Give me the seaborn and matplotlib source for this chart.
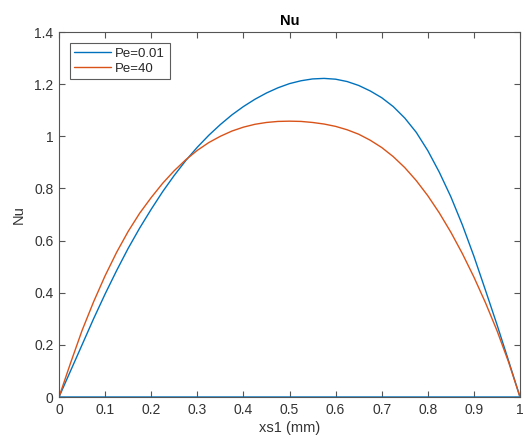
import matplotlib
matplotlib.use("Agg")
import matplotlib.pyplot as plt
import seaborn as sns
import pandas as pd

# Data
x_blue = [0, 0.025, 0.05, 0.075, 0.1, 0.125, 0.15, 0.175, 0.2, 0.225, 0.25, 0.275, 0.3,
          0.325, 0.35, 0.375, 0.4, 0.425, 0.45, 0.475, 0.5, 0.525, 0.55, 0.575, 0.6,
          0.625, 0.65, 0.675, 0.7, 0.725, 0.75, 0.775, 0.8, 0.825, 0.85, 0.875, 0.9,
          0.925, 0.95, 0.975, 1.0, 0.0]
nu_pe001 = [0, 0.10, 0.20, 0.30, 0.395, 0.485, 0.57, 0.648, 0.72, 0.788, 0.85, 0.907, 0.958,
            1.004, 1.045, 1.082, 1.114, 1.142, 1.166, 1.186, 1.202, 1.213, 1.22, 1.222, 1.219,
            1.21, 1.195, 1.174, 1.148, 1.114, 1.07, 1.015, 0.945, 0.862, 0.768, 0.66, 0.54,
            0.41, 0.278, 0.14, 0.0, 0.0]

x_orange = [0, 0.025, 0.05, 0.075, 0.1, 0.125, 0.15, 0.175, 0.2, 0.225, 0.25, 0.275, 0.3,
            0.325, 0.35, 0.375, 0.4, 0.425, 0.45, 0.475, 0.5, 0.525, 0.55, 0.575, 0.6,
            0.625, 0.65, 0.675, 0.7, 0.725, 0.75, 0.775, 0.8, 0.825, 0.85, 0.875, 0.9,
            0.925, 0.95, 0.975, 1.0]
nu_pe40 = [0, 0.13, 0.255, 0.365, 0.465, 0.555, 0.635, 0.705, 0.765, 0.82, 0.868, 0.91, 0.946,
           0.976, 1.0, 1.02, 1.035, 1.046, 1.053, 1.057, 1.058, 1.057, 1.053, 1.047, 1.038,
           1.025, 1.008, 0.985, 0.957, 0.922, 0.88, 0.83, 0.772, 0.706, 0.632, 0.55, 0.46,
           0.362, 0.255, 0.135, 0.0]

labels = ["Pe=0.01", "Pe=40"]
xticks = [0, 0.1, 0.2, 0.3, 0.4, 0.5, 0.6, 0.7, 0.8, 0.9, 1]
yticks = [0, 0.2, 0.4, 0.6, 0.8, 1.0, 1.2, 1.4]

sns.set_theme(style="white")
plt.rcParams['font.family'] = ['Liberation Sans', 'DejaVu Sans']

fig = plt.figure(figsize=(5.24, 4.44), dpi=100)
ax = fig.add_axes([59/524, 1 - 397/444, (520-59)/524, (397-32)/444])

df1 = pd.DataFrame({"x": x_blue, "y": nu_pe001})
df2 = pd.DataFrame({"x": x_orange, "y": nu_pe40})
sns.lineplot(data=df1, x="x", y="y", sort=False, estimator=None, color="#0072BD",
             lw=1.0, ax=ax, label=labels[0])
sns.lineplot(data=df2, x="x", y="y", sort=False, estimator=None, color="#D95319",
             lw=1.0, ax=ax, label=labels[1])

ax.set_xlim(0, 1)
ax.set_ylim(0, 1.4)
ax.set_xticks(xticks)
ax.set_xticklabels([f"{t:g}" for t in xticks])
ax.set_yticks(yticks)
ax.set_yticklabels([f"{t:g}" for t in yticks])

gray = "#333333"
for s in ax.spines.values():
    s.set_color("#555555")
    s.set_linewidth(0.8)
    s.set_visible(True)
ax.tick_params(direction="in", length=4, width=0.8, color="#555555",
               top=True, right=True, bottom=True, left=True,
               labelsize=10, labelcolor=gray, pad=4)

ax.set_title("Nu", fontsize=10.5, fontweight="bold", color="black", pad=5)
ax.set_xlabel("xs1 (mm)", fontsize=10.5, color=gray, labelpad=3)
ax.set_ylabel("Nu", fontsize=10.5, color=gray, labelpad=6)

leg = ax.legend(loc="upper left", bbox_to_anchor=(0.023, 0.97), fontsize=9.5,
                frameon=True, fancybox=False, handlelength=2.8, handletextpad=0.3,
                borderpad=0.35, labelspacing=0.2, borderaxespad=0)
leg.get_frame().set_edgecolor("#333333")
leg.get_frame().set_linewidth(0.8)

fig.savefig("out.png", dpi=100)
